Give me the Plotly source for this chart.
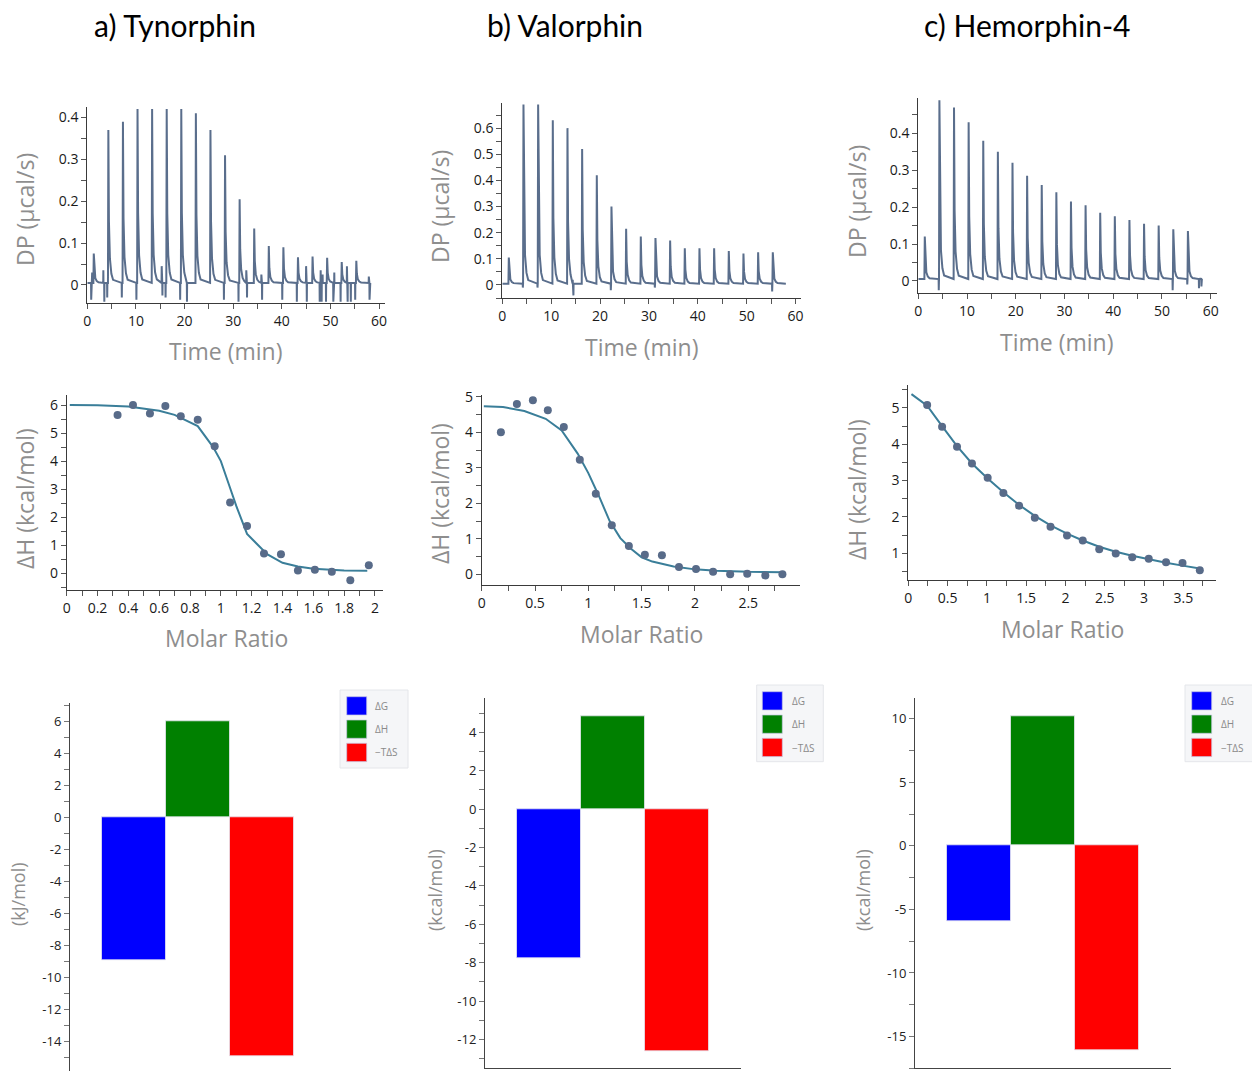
import plotly.graph_objects as go

W, H = 1252, 1071

# ---------------- data ----------------
panel_titles = ["a) Tynorphin", "b) Valorphin", "c) Hemorphin-4"]

# raw thermograms: injection times (min) and peak heights (µcal/s)
inj_t = [1.3, 4.3, 7.3, 10.3, 13.3, 16.3, 19.3, 22.3, 25.3, 28.3,
         31.3, 34.3, 37.3, 40.3, 43.3, 46.3, 49.3, 52.3, 55.3]
tyn_dp = [0.075, 0.37, 0.39, 0.42, 0.42, 0.42, 0.42, 0.41, 0.37, 0.31,
          0.205, 0.135, 0.093, 0.09, 0.066, 0.068, 0.065, 0.055, 0.058]
val_dp = [0.105, 0.69, 0.69, 0.63, 0.60, 0.52, 0.42, 0.30, 0.215, 0.185,
          0.18, 0.17, 0.14, 0.14, 0.14, 0.13, 0.12, 0.125, 0.125]
hem_dp = [0.12, 0.49, 0.47, 0.43, 0.38, 0.35, 0.32, 0.285, 0.26, 0.24,
          0.215, 0.205, 0.185, 0.175, 0.165, 0.155, 0.15, 0.14, 0.135]
dp_end = [58.2, 58.0, 58.2]
dp_base = [0.005, 0.005, 0.005]

# baseline artefacts (time, value)
tyn_art_t = [0.8, 1.0, 3.3, 3.5, 4.1, 7.1, 10.1, 15.3, 15.45, 16.1, 19.1, 20.5,
             28.1, 31.1, 32.7, 32.85, 35.8, 35.95, 40.1, 43.1, 45.0, 45.15,
             47.8, 48.0, 48.2, 48.4, 49.1, 50.6, 50.8, 52.1, 53.4, 53.55,
             54.2, 55.1, 57.9, 58.05]
tyn_art_v = [-0.035, 0.03, 0.035, -0.04, -0.03, -0.03, -0.035, 0.045, -0.025, -0.03, -0.035, -0.04,
             -0.035, -0.04, 0.035, -0.03, 0.025, -0.035, -0.035, -0.04, 0.045, -0.04,
             -0.04, 0.035, -0.04, 0.025, -0.04, -0.04, 0.03, -0.04, 0.045, -0.04,
             -0.04, -0.035, 0.02, -0.035]
val_art_t = [4.2, 7.2, 14.4, 14.55, 22.2, 31.2, 55.2]
val_art_v = [-0.01, -0.01, 0.02, -0.04, -0.02, -0.01, -0.025]
hem_art_t = [4.2, 52.2, 55.2, 57.6, 57.9, 58.1]
hem_art_v = [-0.025, -0.025, -0.01, -0.02, 0.008, -0.015]

# integrated heats (molar ratio, kcal/mol)
tyn_mr = [0.33, 0.43, 0.54, 0.64, 0.74, 0.85, 0.96, 1.06, 1.17, 1.28, 1.39, 1.50, 1.61, 1.72, 1.84, 1.96]
tyn_dh = [5.65, 6.0, 5.7, 5.97, 5.6, 5.48, 4.53, 2.52, 1.68, 0.7, 0.68, 0.1, 0.12, 0.05, -0.25, 0.28]
tyn_fit_x = [0.02, 0.2, 0.4, 0.6, 0.7, 0.85, 0.95, 1.0, 1.05, 1.1, 1.17, 1.25, 1.3, 1.4, 1.5, 1.6, 1.7, 1.8, 1.95]
tyn_fit_y = [6.0, 5.99, 5.95, 5.8, 5.65, 5.25, 4.5, 4.0, 3.2, 2.4, 1.4, 0.95, 0.68, 0.37, 0.24, 0.16, 0.12, 0.1, 0.09]

val_mr = [0.18, 0.33, 0.48, 0.62, 0.77, 0.92, 1.07, 1.22, 1.38, 1.53, 1.69, 1.85, 2.01, 2.17, 2.33, 2.49, 2.66, 2.82]
val_dh = [4.0, 4.8, 4.9, 4.62, 4.15, 3.23, 2.27, 1.38, 0.8, 0.55, 0.54, 0.21, 0.15, 0.07, 0.0, 0.02, -0.03, 0.0]
val_fit_x = [0.02, 0.2, 0.4, 0.6, 0.75, 0.9, 1.0, 1.1, 1.2, 1.3, 1.4, 1.5, 1.6, 1.8, 2.0, 2.2, 2.5, 2.82]
val_fit_y = [4.73, 4.71, 4.6, 4.38, 4.05, 3.4, 2.85, 2.2, 1.5, 1.02, 0.72, 0.48, 0.36, 0.22, 0.14, 0.1, 0.07, 0.06]

hem_mr = [0.24, 0.43, 0.62, 0.81, 1.01, 1.21, 1.41, 1.61, 1.81, 2.02, 2.22, 2.43, 2.64, 2.85, 3.06, 3.28, 3.49, 3.71]
hem_dh = [5.08, 4.48, 3.93, 3.47, 3.08, 2.66, 2.31, 1.98, 1.73, 1.49, 1.35, 1.11, 0.99, 0.89, 0.85, 0.75, 0.73, 0.53]
hem_fit_x = [0.04, 0.24, 0.43, 0.62, 0.81, 1.01, 1.21, 1.41, 1.61, 1.81, 2.02, 2.22, 2.43, 2.64, 2.85, 3.06, 3.28, 3.49, 3.71]
hem_fit_y = [5.38, 5.06, 4.5, 3.95, 3.47, 3.06, 2.68, 2.33, 2.03, 1.77, 1.54, 1.35, 1.18, 1.04, 0.93, 0.83, 0.74, 0.66, 0.58]

# thermodynamic signatures
sig_labels = ["ΔG", "ΔH", "−TΔS"]
tyn_sig = [-8.95, 6.0, -14.95]
val_sig = [-7.75, 4.85, -12.6]
hem_sig = [-5.9, 10.2, -16.1]
sig_units = ["(kJ/mol)", "(kcal/mol)", "(kcal/mol)"]

# ---------------- style ----------------
DP_COLOR = "#5a6e8c"
PT_COLOR = "#586b89"
FIT_COLOR = "#3a7e99"
BAR_COLORS = ["#0000ff", "#008000", "#ff0000"]
AX_FONT = "Open Sans, Noto Sans, sans-serif"
TITLE_GRAY = "#8e8e8e"
DECAY_DT = [0.15, 0.35, 0.65, 1.0]
DECAY_F = [0.4, 0.16, 0.06, 0.02]


def dp_curve(times, heights, art_t, art_v, base, end_t):
    pts = [(0.0, base)]
    for t, h in zip(times, heights):
        pts.append((t - 0.05, base))
        pts.append((t + 0.03, h))
        for dt, f in zip(DECAY_DT, DECAY_F):
            pts.append((t + dt, base + (h - base) * f))
    for t, v in zip(art_t, art_v):
        pts += [(t - 0.03, base), (t, v), (t + 0.03, base)]
    pts.append((end_t, base))
    pts.sort(key=lambda p: p[0])
    return [p[0] for p in pts], [p[1] for p in pts]


def px(x):
    return x / W


def py(y):
    return 1 - y / H


# panel pixel boxes: (x0, x1, y0, y1)
boxes = {
    1: (87.3, 385, 107, 303),
    2: (502.3, 801, 103.3, 298.3),
    3: (918.3, 1217, 98.3, 292.7),
    4: (66.7, 383, 395, 590),
    5: (481.7, 800, 395, 585),
    6: (908.3, 1216, 385, 580),
    7: (70, 326, 703.3, 1071),
    8: (485, 741, 698.3, 1068.3),
    9: (915, 1171, 698.3, 1068.3),
}

fig = go.Figure()

# --- thermograms
dp_sets = [(tyn_dp, tyn_art_t, tyn_art_v), (val_dp, val_art_t, val_art_v), (hem_dp, hem_art_t, hem_art_v)]
for i, (hs, at, av) in enumerate(dp_sets):
    xs, ys = dp_curve(inj_t, hs, at, av, dp_base[i], dp_end[i])
    n = i + 1
    fig.add_trace(go.Scatter(x=xs, y=ys, mode="lines", line=dict(color=DP_COLOR, width=2),
                             xaxis=f"x{n}", yaxis=f"y{n}", showlegend=False, cliponaxis=True))

# --- isotherms
iso_sets = [(tyn_mr, tyn_dh, tyn_fit_x, tyn_fit_y), (val_mr, val_dh, val_fit_x, val_fit_y),
            (hem_mr, hem_dh, hem_fit_x, hem_fit_y)]
for i, (mx, my, fx, fy) in enumerate(iso_sets):
    n = i + 4
    fig.add_trace(go.Scatter(x=fx, y=fy, mode="lines", line=dict(color=FIT_COLOR, width=2),
                             xaxis=f"x{n}", yaxis=f"y{n}", showlegend=False))
    fig.add_trace(go.Scatter(x=mx, y=my, mode="markers", marker=dict(color=PT_COLOR, size=8),
                             xaxis=f"x{n}", yaxis=f"y{n}", showlegend=False))

# --- signature bars
for i, vals in enumerate([tyn_sig, val_sig, hem_sig]):
    n = i + 7
    fig.add_trace(go.Bar(x=[0, 1, 2], y=vals, width=1, marker=dict(color=BAR_COLORS,
                         line=dict(color="rgba(230,230,240,0.8)", width=1)),
                         xaxis=f"x{n}", yaxis=f"y{n}", showlegend=False, hoverinfo="skip"))

# ---------------- axes ----------------
def base_axis():
    return dict(showline=True, linecolor="#3a3a3a", linewidth=1, ticks="outside", ticklen=5,
                tickcolor="#555", tickwidth=1, showgrid=False, zeroline=False, automargin=False,
                tickfont=dict(family=AX_FONT, size=14, color="#1a1a1a"), fixedrange=True)

axis_specs = {
    1: dict(xr=[0, 61.23], xd=10, xm=5, yr=[-0.043, 0.425], yd=0.1, ym=0.05),
    2: dict(xr=[0, 61.1], xd=10, xm=5, yr=[-0.051, 0.695], yd=0.1, ym=0.05),
    3: dict(xr=[0, 61.3], xd=10, xm=5, yr=[-0.032, 0.495], yd=0.1, ym=0.05),
    4: dict(xr=[0, 2.052], xd=0.2, xm=0.1, yr=[-0.6, 6.36], yd=1, ym=0.5),
    5: dict(xr=[0, 2.985], xd=0.5, xm=0.25, yr=[-0.3, 5.05], yd=1, ym=0.5),
    6: dict(xr=[0, 3.916], xd=0.5, xm=0.25, yr=[0.264, 5.63], yd=1, ym=0.5),
}

layout_axes = {}
for n, (x0, x1, y0, y1) in boxes.items():
    xa = base_axis()
    ya = base_axis()
    xa.update(domain=[px(x0), px(x1)], anchor=f"y{n}")
    ya.update(domain=[py(y1), py(y0)], anchor=f"x{n}")
    if n in axis_specs:
        s = axis_specs[n]
        xa.update(range=s["xr"], tick0=0, dtick=s["xd"],
                  minor=dict(tick0=0, dtick=s["xm"], ticks="outside", ticklen=5, tickcolor="#555"))
        ya.update(range=s["yr"], tick0=0, dtick=s["yd"],
                  minor=dict(tick0=0, dtick=s["ym"], ticks="outside", ticklen=5, tickcolor="#555"))
    else:
        xa.update(range=[-1, 3], showticklabels=False, ticks="")
        ya.update(tickfont=dict(family=AX_FONT, size=13, color="#222"))
    layout_axes[n] = (xa, ya)

# bar panel y ticks with plain hyphen minus
bar_y = {
    7: ([-15.85, 7.12], [-14, -12, -10, -8, -6, -4, -2, 0, 2, 4, 6], 1),
    8: ([-13.5, 5.77], [-12, -10, -8, -6, -4, -2, 0, 2, 4], 1),
    9: ([-17.5, 11.6], [-15, -10, -5, 0, 5, 10], 2.5),
}
for n, (rng, tv, mdt) in bar_y.items():
    xa, ya = layout_axes[n]
    ya.update(range=rng, tickmode="array", tickvals=tv, ticktext=[str(v) for v in tv],
              minor=dict(tick0=0, dtick=mdt, ticks="outside", ticklen=5, tickcolor="#777"),
              tickcolor="#777", linecolor="#444")
    xa.update(linecolor="#444")
    if n == 7:
        xa.update(showline=False)

lay = {}
for n, (xa, ya) in layout_axes.items():
    k = "" if n == 1 else str(n)
    lay[f"xaxis{k}"] = xa
    lay[f"yaxis{k}"] = ya

# ---------------- annotations ----------------
ann = []
for t, cx in zip(panel_titles, [174.5, 564.5, 1026.5]):
    ann.append(dict(text=t, x=px(cx), y=py(25), xref="paper", yref="paper", showarrow=False,
                    xanchor="center", yanchor="middle",
                    font=dict(family="Lato, Carlito, sans-serif", size=30, color="#000")))

ytitles = [("DP (µcal/s)", 25, 210), ("DP (µcal/s)", 440, 207), ("DP (µcal/s)", 857, 202),
           ("ΔH (kcal/mol)", 25, 499), ("ΔH (kcal/mol)", 440, 494), ("ΔH (kcal/mol)", 857, 490)]
for t, cx, cy in ytitles:
    ann.append(dict(text=t, x=px(cx), y=py(cy), xref="paper", yref="paper", showarrow=False,
                    textangle=-90, xanchor="center", yanchor="middle",
                    font=dict(family=AX_FONT, size=23, color=TITLE_GRAY)))
xtitles = [("Time (min)", 225, 351), ("Time (min)", 641, 347), ("Time (min)", 1056, 342),
           ("Molar Ratio", 226, 638), ("Molar Ratio", 641, 634), ("Molar Ratio", 1062, 629)]
for t, cx, cy in xtitles:
    ann.append(dict(text=t, x=px(cx), y=py(cy), xref="paper", yref="paper", showarrow=False,
                    xanchor="center", yanchor="middle",
                    font=dict(family=AX_FONT, size=23, color=TITLE_GRAY)))
for t, cx, cy in zip(sig_units, [18, 435, 863], [894, 890, 890]):
    ann.append(dict(text=t, x=px(cx), y=py(cy), xref="paper", yref="paper", showarrow=False,
                    textangle=-90, xanchor="center", yanchor="middle",
                    font=dict(family=AX_FONT, size=18, color=TITLE_GRAY)))

# manual legends
shapes = []
legend_boxes = [
    ((340, 690, 408, 768), 346.7, 373, [696.7, 720, 743.3]),
    ((756.7, 685, 823.3, 761.7), 762.3, 790, [691.7, 715, 738.3]),
    ((1185, 685, 1254, 761.7), 1191.7, 1219, [691.7, 715, 738.3]),
]
for (bx0, by0, bx1, by1), sx, lx, rows in legend_boxes:
    shapes.append(dict(type="rect", xref="paper", yref="paper", x0=px(bx0), x1=px(bx1),
                       y0=py(by1), y1=py(by0), fillcolor="#f5f6f8", line=dict(color="#e4e6ea", width=1),
                       layer="below"))
    for lab, col, ry in zip(sig_labels, BAR_COLORS, rows):
        shapes.append(dict(type="rect", xref="paper", yref="paper", x0=px(sx), x1=px(sx + 20),
                           y0=py(ry + 18.3), y1=py(ry), fillcolor=col,
                           line=dict(color="rgba(200,200,230,0.7)", width=1)))
        ann.append(dict(text=lab, x=px(lx), y=py(ry + 9.2), xref="paper", yref="paper",
                        showarrow=False, xanchor="left", yanchor="middle",
                        font=dict(family=AX_FONT, size=10, color="#8a8a8a")))

fig.update_layout(width=W, height=H, autosize=False,
                  margin=dict(l=0, r=0, t=0, b=0, pad=0, autoexpand=False),
                  paper_bgcolor="white", plot_bgcolor="white",
                  annotations=ann, shapes=shapes, showlegend=False, bargap=0, **lay)

fig.write_html("out.html")
